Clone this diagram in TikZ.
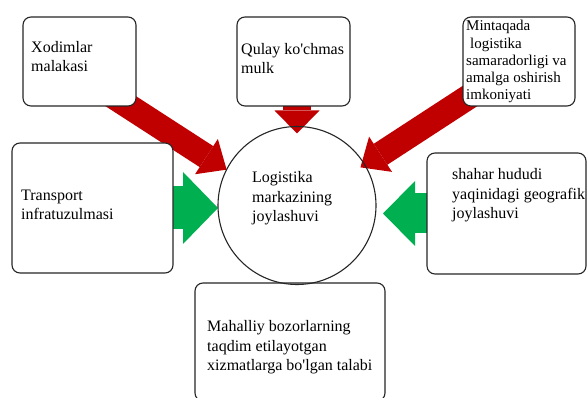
\documentclass[tikz,border=0pt]{standalone}
\usepackage{fontspec}
\setmainfont{Liberation Serif}
\usepackage{tikz}
\usetikzlibrary{arrows.meta, calc, backgrounds}
\definecolor{arrred}{RGB}{192,0,0}
\definecolor{arrgreen}{RGB}{0,176,80}

\begin{document}
\begin{tikzpicture}[x=1pt, y=1pt,
	box/.style={draw=black!85, line width=1.1pt, rounded corners=8pt, fill=white, inner sep=0pt, outer sep=0pt},
	txt/.style={anchor=base west, align=left, inner sep=0pt, font=\fontsize{16}{19.5}\selectfont},
	fat/.style n args={3}{line width=#1, -{Triangle[width=#2, length=#3, line width=0pt]}}]
	\useasboundingbox (0,0) rectangle (588,398);
	\node [box, minimum width=113pt, minimum height=89pt] (xod) at (79.5,336.5) {};
	\node [box, minimum width=113pt, minimum height=89pt] (qul) at (293.5,336.5) {};
	\node [box, minimum width=112pt, minimum height=89pt] (mint) at (519,336.5) {};
	\node [box, minimum width=161pt, minimum height=130pt] (tra) at (92.5,190) {};
	\node [box, minimum width=159pt, minimum height=121pt] (sha) at (506.5,184.5) {};
	\node [box, minimum width=190pt, minimum height=118pt] (mah) at (290,56) {};
	\node [circle, draw=black!85, line width=1.1pt, minimum size=158pt, inner sep=0pt, outer sep=0pt] (loc) at (297,192.5) {};
	\node [txt] (xodT) at (31,326) {Xodimlar\\malakasi};
	\node [txt] (qulT) at (241,324) {Qulay ko\textquotesingle chmas\\mulk};
	\node [txt, font=\fontsize{15}{17.3}\selectfont] (mintT) at (466,298) {Mintaqada\\\hspace*{4pt}logistika\\samaradorligi va\\amalga oshirish\\imkoniyati};
	\node [txt] (traT) at (21,178) {Transport\\infratuzulmasi};
	\node [txt] (shaT) at (452,179) {shahar hududi\\yaqinidagi geografik\\joylashuvi};
	\node [txt] (locT) at (252,176) {Logistika\\markazining\\joylashuvi};
	\node [txt] (mahT) at (207,27) {Mahalliy bozorlarning\\taqdim etilayotgan\\xizmatlarga bo\textquotesingle lgan talabi};
	\begin{scope}[on background layer]
		\draw [arrred, fat={25pt}{42pt}{24pt}] ($(xod.south east)+(-31,15)$) -- (loc.153);
		\draw [arrred, fat={28pt}{45pt}{23pt}] (loc.north |- qul.south) -- ($(loc.north)+(0,-7)$);
		\draw [arrred, fat={25pt}{42pt}{24pt}] ($(mint.south west)+(17,16.5)$) -- ($(loc.center)+(31:74pt)$);
		\draw [arrgreen, fat={43pt}{72pt}{35pt}] (tra.east) -- (tra.east -| loc.west);
		\draw [arrgreen, fat={40pt}{65pt}{32pt}] (sha.west) -- ($(sha.west -| loc.east)+(7,0)$);
	\end{scope}
\end{tikzpicture}
\end{document}
